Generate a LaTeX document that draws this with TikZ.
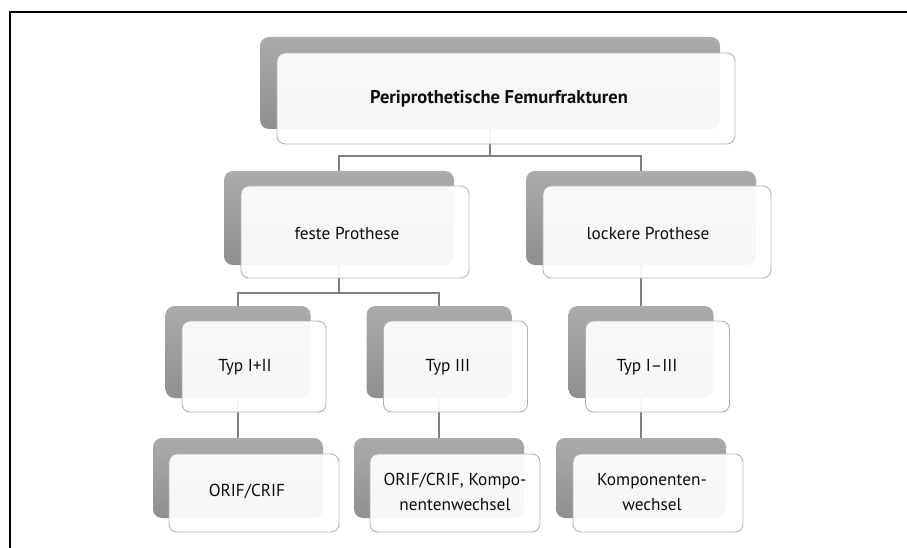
\documentclass[tikz,border=0pt]{standalone}
\usepackage{fontspec}
\setmainfont{PT Sans}

\tikzset{
  shadowbox/.style={rectangle, rounded corners=9pt, top color=black!33, bottom color=black!44, draw=none},
  frontbox/.style={rectangle, rounded corners=8pt, draw=black!30, line width=0.9pt, fill=white, fill opacity=0.93},
  conn/.style={draw=black!50, line width=1.4pt},
  lbl/.style={align=center, font=\fontsize{17.3}{25}\selectfont, text=black!95},
}

\begin{document}
\begin{tikzpicture}[x=1pt, y=-1pt]
    \useasboundingbox (0,0) rectangle (907,548);

    % 枠線
    \coordinate (frameA) at (10,548);
    \coordinate (frameB) at (10,12);
    \coordinate (frameC) at (907,12);
    \draw[line width=1.5pt] (frameA) -- (frameB) -- (frameC);

    % 影の四角
    \node[shadowbox, minimum width=460pt, minimum height=92pt] (rootS) at (490,83) {};
    \node[shadowbox, minimum width=230pt, minimum height=94pt] (festS) at (339,218) {};
    \node[shadowbox, minimum width=230pt, minimum height=94pt] (lockS) at (641,218) {};
    \node[shadowbox, minimum width=145pt, minimum height=92pt] (typAS) at (238,352) {};
    \node[shadowbox, minimum width=145pt, minimum height=92pt] (typBS) at (439,352) {};
    \node[shadowbox, minimum width=145pt, minimum height=92pt] (typCS) at (641,352) {};
    \node[shadowbox, minimum width=170pt, minimum height=80pt] (thAS) at (238,478) {};
    \node[shadowbox, minimum width=170pt, minimum height=80pt] (thBS) at (439,478) {};
    \node[shadowbox, minimum width=170pt, minimum height=80pt] (thCS) at (641,478) {};

    % 接続線
    \coordinate (busA) at (490,156);
    \coordinate (busB) at (339,293);
    \draw[conn] (rootS.south) -- (busA) -| (festS.north);
    \draw[conn] (busA) -| (lockS.north);
    \draw[conn] (festS.south) -- (busB) -| (typAS.north);
    \draw[conn] (busB) -| (typBS.north);
    \draw[conn] (lockS.south) -- (typCS.north);
    \draw[conn] (typAS.south) -- (thAS.north);
    \draw[conn] (typBS.south) -- (thBS.north);
    \draw[conn] (typCS.south) -- (thCS.north);

    % 前面の四角
    \node[frontbox, minimum width=458pt, minimum height=91pt] (root) at (506,98.5) {};
    \node[frontbox, minimum width=228pt, minimum height=92pt] (fest) at (355,232) {};
    \node[frontbox, minimum width=228pt, minimum height=92pt] (lock) at (657,232) {};
    \node[frontbox, minimum width=144pt, minimum height=91pt] (typA) at (254,366.5) {};
    \node[frontbox, minimum width=144pt, minimum height=91pt] (typB) at (455.5,366.5) {};
    \node[frontbox, minimum width=144pt, minimum height=91pt] (typC) at (657.5,366.5) {};
    \node[frontbox, minimum width=170pt, minimum height=78pt] (thA) at (254,493) {};
    \node[frontbox, minimum width=170pt, minimum height=78pt] (thB) at (455,493) {};
    \node[frontbox, minimum width=170pt, minimum height=78pt] (thC) at (658,493) {};

    % テキスト
    \node[lbl, font=\fontsize{18.5}{25}\selectfont\bfseries] (rootT) at (499,99) {Periprothetische Femurfrakturen};
    \node[lbl] (festT) at (347,233) {feste Prothese};
    \node[lbl] (lockT) at (648,233) {lockere Prothese};
    \node[lbl] (typAT) at (245,367) {Typ I+II};
    \node[lbl] (typBT) at (448,367) {Typ III};
    \node[lbl] (typCT) at (647,367) {Typ I--III};
    \node[lbl] (thAT) at (247,492) {ORIF/CRIF};
    \node[lbl] (thBT) at (455,492) {ORIF/CRIF, Kompo-\\nentenwechsel};
    \node[lbl] (thCT) at (652,492) {Komponenten-\\wechsel};
\end{tikzpicture}
\end{document}
